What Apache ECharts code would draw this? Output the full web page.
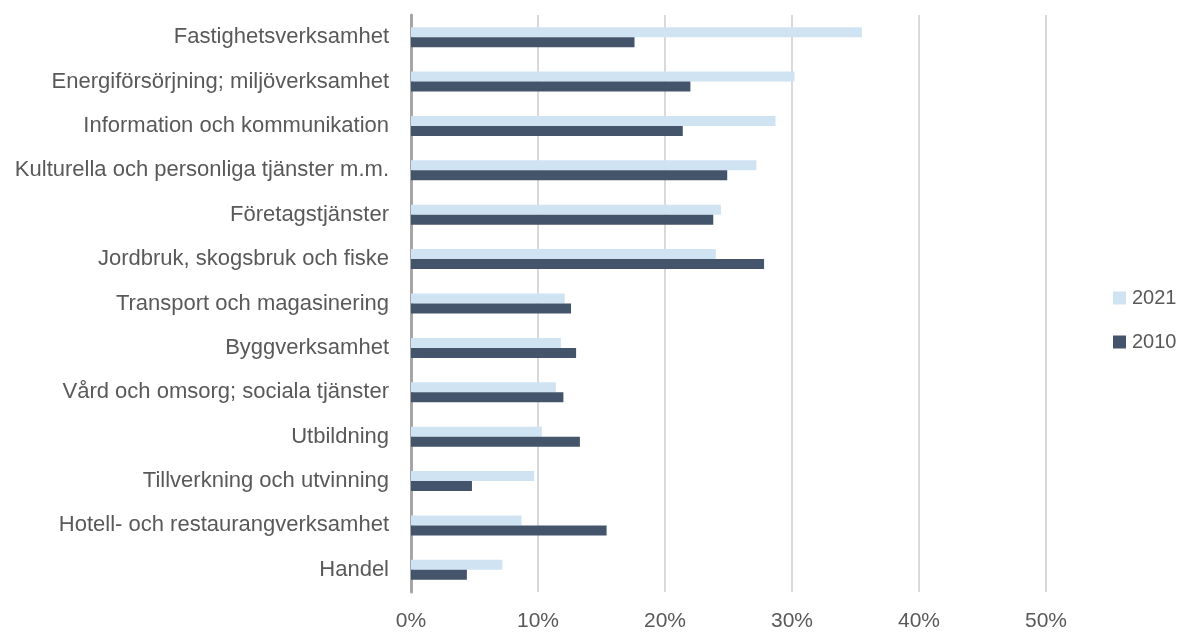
<!DOCTYPE html>
<html>
<head>
<meta charset="utf-8">
<script src="https://cdn.jsdelivr.net/npm/echarts@6/dist/echarts.min.js"></script>
<style>
    html, body { margin: 0; padding: 0; background: #fff; }
    #chart { width: 1180px; height: 632px; }
</style>
</head>
<body>
<div id="chart"></div>
<script>
// branscher, uppifrån och ned
const categories = [
    'Fastighetsverksamhet',
    'Energiförsörjning; miljöverksamhet',
    'Information och kommunikation',
    'Kulturella och personliga tjänster m.m.',
    'Företagstjänster',
    'Jordbruk, skogsbruk och fiske',
    'Transport och magasinering',
    'Byggverksamhet',
    'Vård och omsorg; sociala tjänster',
    'Utbildning',
    'Tillverkning och utvinning',
    'Hotell- och restaurangverksamhet',
    'Handel'
];

// andel i procent
const values2021 = [35.5, 30.2, 28.7, 27.2, 24.4, 24.0, 12.1, 11.8, 11.4, 10.3, 9.7, 8.7, 7.2];
const values2010 = [17.6, 22.0, 21.4, 24.9, 23.8, 27.8, 12.6, 13.0, 12.0, 13.3, 4.8, 15.4, 4.4];

const xTicks = [0, 10, 20, 30, 40, 50];

const textColor = '#595959';
const fontFamily = '"Liberation Sans", Arial, sans-serif';

const chart = echarts.init(document.getElementById('chart'));

const option = {
    animation: false,
    textStyle: { fontFamily: fontFamily, color: textColor },
    grid: {
        left: 411,
        right: 134,
        top: 15,
        bottom: 40
    },
    legend: {
        orient: 'vertical',
        left: 1108,
        top: 283,
        itemWidth: 13,
        itemHeight: 13,
        itemGap: 24,
        icon: 'rect',
        data: ['2021', '2010'],
        textStyle: {
            fontSize: 20,
            color: textColor,
            fontFamily: fontFamily,
            padding: [0, 0, 0, 1]
        }
    },
    xAxis: {
        type: 'value',
        min: xTicks[0],
        max: xTicks[xTicks.length - 1],
        interval: 10,
        axisLine: { show: false },
        axisTick: { show: false },
        axisLabel: {
            formatter: '{value}%',
            fontSize: 21,
            color: textColor,
            margin: 19
        },
        splitLine: {
            lineStyle: { color: '#d9d9d9', width: 2 }
        }
    },
    yAxis: {
        type: 'category',
        data: categories,
        inverse: true,
        axisLine: {
            lineStyle: { color: '#a6a6a6', width: 3 }
        },
        axisTick: { show: false },
        axisLabel: {
            fontSize: 22,
            color: textColor,
            margin: 22
        },
        splitLine: { show: false }
    },
    series: [
        {
            name: '2021',
            type: 'bar',
            data: values2021,
            barWidth: 10,
            barGap: '0%',
            itemStyle: { color: '#cfe3f3' }
        },
        {
            name: '2010',
            type: 'bar',
            data: values2010,
            barWidth: 10,
            barGap: '0%',
            itemStyle: { color: '#44546a' }
        }
    ]
};

chart.setOption(option);
</script>
</body>
</html>
